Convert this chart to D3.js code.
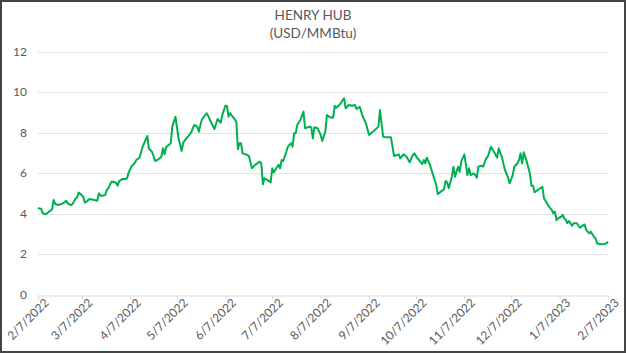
<!DOCTYPE html>
<html><head><meta charset="utf-8">
<script src="https://cdn.jsdelivr.net/npm/d3@7"></script>
<style>html,body{margin:0;padding:0;background:#fff;}svg{display:block;}</style>
</head><body>
<svg id="chart" width="626" height="353"></svg>
<script>
const title = ["HENRY HUB", "(USD/MMBtu)"];
const yTicks = [0, 2, 4, 6, 8, 10, 12];
const xTickLabels = ["2/7/2022","3/7/2022","4/7/2022","5/7/2022","6/7/2022","7/7/2022","8/7/2022","9/7/2022","10/7/2022","11/7/2022","12/7/2022","1/7/2023","2/7/2023"];
const dates = [
"2022-02-07","2022-02-09","2022-02-10","2022-02-12","2022-02-14","2022-02-16","2022-02-17","2022-02-18","2022-02-20","2022-02-23","2022-02-25","2022-02-26","2022-02-28",
"2022-03-01","2022-03-03","2022-03-04","2022-03-05","2022-03-07","2022-03-08","2022-03-09","2022-03-10","2022-03-12","2022-03-15","2022-03-17","2022-03-18","2022-03-19","2022-03-20","2022-03-22","2022-03-23","2022-03-24","2022-03-26","2022-03-27","2022-03-29","2022-03-30","2022-03-31",
"2022-04-02","2022-04-04","2022-04-05","2022-04-06","2022-04-08","2022-04-09","2022-04-10","2022-04-11","2022-04-13","2022-04-15","2022-04-16","2022-04-18","2022-04-19","2022-04-20","2022-04-21","2022-04-23","2022-04-25","2022-04-27","2022-04-28","2022-04-29","2022-04-30",
"2022-05-03","2022-05-04","2022-05-06","2022-05-08","2022-05-10","2022-05-11","2022-05-13","2022-05-14","2022-05-16","2022-05-18","2022-05-20","2022-05-21","2022-05-22","2022-05-23","2022-05-26","2022-05-27","2022-05-29","2022-05-31",
"2022-06-02","2022-06-04","2022-06-05","2022-06-07","2022-06-08","2022-06-09","2022-06-10","2022-06-13","2022-06-14","2022-06-15","2022-06-16","2022-06-17","2022-06-18","2022-06-21","2022-06-22","2022-06-24","2022-06-26","2022-06-29","2022-06-30",
"2022-07-01","2022-07-02","2022-07-04","2022-07-06","2022-07-07","2022-07-08","2022-07-10","2022-07-11","2022-07-12","2022-07-13","2022-07-14","2022-07-16","2022-07-17","2022-07-19","2022-07-20","2022-07-21","2022-07-22","2022-07-23","2022-07-25","2022-07-27","2022-07-28","2022-07-31",
"2022-08-01","2022-08-02","2022-08-03","2022-08-05","2022-08-07","2022-08-08","2022-08-10","2022-08-11","2022-08-13","2022-08-15","2022-08-16","2022-08-17","2022-08-19","2022-08-22","2022-08-23","2022-08-25","2022-08-27","2022-08-29","2022-08-30",
"2022-09-01","2022-09-03","2022-09-05","2022-09-07","2022-09-10","2022-09-13","2022-09-14","2022-09-16","2022-09-18","2022-09-21","2022-09-23","2022-09-25","2022-09-26","2022-09-27","2022-09-29",
"2022-10-01","2022-10-03","2022-10-05","2022-10-06","2022-10-08","2022-10-09","2022-10-11","2022-10-12","2022-10-13","2022-10-14","2022-10-16","2022-10-18","2022-10-20","2022-10-21","2022-10-23","2022-10-25","2022-10-26","2022-10-27","2022-10-28","2022-10-30","2022-10-31",
"2022-11-01","2022-11-03","2022-11-04","2022-11-05","2022-11-07","2022-11-09","2022-11-10","2022-11-11","2022-11-13","2022-11-14","2022-11-15","2022-11-16","2022-11-18","2022-11-19","2022-11-21","2022-11-22","2022-11-24","2022-11-26","2022-11-28","2022-11-29",
"2022-12-01","2022-12-03","2022-12-05","2022-12-06","2022-12-08","2022-12-09","2022-12-11","2022-12-12","2022-12-13","2022-12-14","2022-12-15","2022-12-17","2022-12-19","2022-12-20","2022-12-21","2022-12-22","2022-12-24","2022-12-27","2022-12-28","2022-12-30","2022-12-31",
"2023-01-02","2023-01-03","2023-01-04","2023-01-05","2023-01-06","2023-01-08","2023-01-09","2023-01-10","2023-01-11","2023-01-12","2023-01-13","2023-01-15","2023-01-16","2023-01-18","2023-01-20","2023-01-21","2023-01-23","2023-01-24","2023-01-26","2023-01-27","2023-01-29","2023-01-30","2023-01-31",
"2023-02-02","2023-02-04","2023-02-06","2023-02-07"
];
const prices = [
4.26,4.24,4.01,3.96,4.09,4.20,4.67,4.47,4.42,4.50,4.63,4.50,4.42,
4.45,4.73,4.78,5.03,4.91,4.83,4.53,4.58,4.72,4.67,4.63,5.00,4.88,4.88,4.91,5.16,5.24,5.57,5.57,5.52,5.37,5.60,
5.70,5.70,5.74,6.01,6.35,6.40,6.51,6.64,6.77,7.30,7.47,7.83,7.22,7.12,7.05,6.59,6.67,6.80,7.22,6.92,7.27,
7.47,8.29,8.78,7.71,7.09,7.50,7.71,7.79,7.99,8.37,8.29,8.04,8.37,8.65,8.95,8.81,8.48,8.17,
8.67,8.48,8.86,9.32,9.31,8.78,8.95,8.65,8.53,7.17,7.47,7.47,6.97,6.89,6.85,6.23,6.40,6.56,6.48,
5.44,5.74,5.65,5.54,6.23,6.03,6.28,6.40,6.23,6.64,6.59,7.05,7.30,7.47,7.30,7.96,7.96,8.37,8.62,9.03,8.21,8.29,
8.24,7.71,8.26,8.21,7.88,7.58,8.04,8.86,8.75,8.73,9.32,9.22,9.36,9.69,9.20,9.36,9.32,9.36,9.16,
9.27,8.78,8.45,7.88,8.07,8.29,9.11,7.79,7.76,7.76,6.84,6.89,6.92,6.72,6.92,
6.80,6.53,6.89,6.97,6.72,6.64,6.44,6.64,6.48,6.76,6.40,5.90,5.41,4.96,5.08,5.20,5.60,5.54,5.25,5.82,6.31,
5.82,6.31,6.06,6.56,6.92,5.90,6.23,5.90,5.98,5.90,5.77,6.31,6.36,6.31,6.73,6.80,7.30,7.05,6.76,7.22,
6.80,6.15,5.77,5.49,5.90,6.31,6.48,6.64,6.97,6.48,7.02,6.56,5.98,5.37,5.37,5.05,5.16,5.32,4.75,4.50,4.37,
4.17,4.01,4.09,3.68,3.76,3.84,3.93,3.76,3.68,3.52,3.63,3.40,3.52,3.52,3.30,3.35,3.46,3.19,3.02,3.10,2.85,2.78,2.53,
2.48,2.48,2.53,2.61
];

const parse = d3.timeParse("%Y-%m-%d");
const tickParse = d3.timeParse("%-m/%-d/%Y");
const data = dates.map((d, i) => ({date: parse(d), value: prices[i]}));
const tickDates = xTickLabels.map(t => tickParse(t));

const svg = d3.select("#chart");
const W = 626, H = 353;
const margin = {left: 38, right: 18, top: 51.5, bottom: 58.5};
const FONT = "Lato, 'Open Sans', sans-serif";
const TXT = "#595959";

svg.append("rect").attr("x", 1).attr("y", 1).attr("width", W - 2).attr("height", H - 2)
  .attr("fill", "#fff").attr("stroke", "#444").attr("stroke-width", 2);

const x = d3.scaleTime().domain([tickDates[0], tickDates[tickDates.length - 1]]).range([margin.left, W - margin.right]);
const y = d3.scaleLinear().domain([0, 12]).range([H - margin.bottom, margin.top]);

// gridlines
svg.append("g").selectAll("line").data(yTicks.filter(v => v > 0)).join("line")
  .attr("x1", margin.left).attr("x2", W - margin.right)
  .attr("y1", d => Math.round(y(d)) + 0.5).attr("y2", d => Math.round(y(d)) + 0.5)
  .attr("stroke", "#e3e3e3").attr("stroke-width", 1);

// y labels
svg.append("g").selectAll("text").data(yTicks).join("text")
  .attr("x", 27).attr("y", d => y(d)).attr("dy", "0.35em")
  .attr("text-anchor", "end").attr("font-family", FONT).attr("font-size", 12).attr("fill", TXT)
  .text(d => d);

// x axis
const xAxis = d3.axisBottom(x).tickValues(tickDates).tickSize(4).tickFormat((d, i) => xTickLabels[i]);
const gx = svg.append("g").attr("transform", `translate(0,${Math.round(y(0)) + 0.5})`).call(xAxis);
gx.select(".domain").attr("stroke", "#d9d9d9");
gx.selectAll(".tick line").attr("stroke", "#d9d9d9");
gx.selectAll(".tick text")
  .attr("font-family", FONT).attr("font-size", 12).attr("fill", TXT)
  .attr("text-anchor", "end")
  .attr("transform", "translate(6,3) rotate(-45)")
  .attr("x", 0).attr("y", 0).attr("dy", "0.6em");

// line
const line = d3.line().x(d => x(d.date)).y(d => y(d.value)).curve(d3.curveLinear);
svg.append("path").datum(data).attr("d", line)
  .attr("fill", "none").attr("stroke", "#00B050").attr("stroke-width", 2).attr("stroke-linejoin", "round");

// title
svg.append("text").attr("x", 313).attr("y", 20).attr("text-anchor", "middle")
  .attr("font-family", FONT).attr("font-size", 13.5).attr("fill", TXT).text(title[0]);
svg.append("text").attr("x", 313).attr("y", 38).attr("text-anchor", "middle")
  .attr("font-family", FONT).attr("font-size", 13.5).attr("fill", TXT).text(title[1]);
</script>
</body></html>
